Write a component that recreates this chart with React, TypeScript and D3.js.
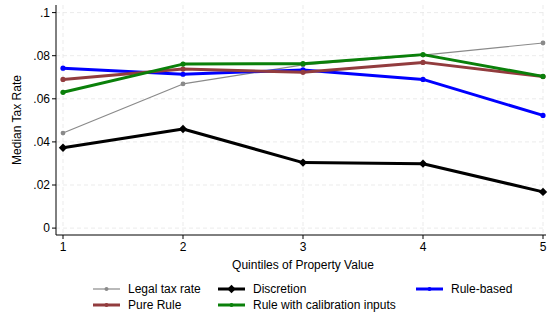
import * as d3 from "d3";
import React from "react";

const quintiles = [1, 2, 3, 4, 5];
const legalTaxRate = [0.0441, 0.0669, 0.0757, 0.0803, 0.0859];
const discretion = [0.0373, 0.046, 0.0304, 0.0299, 0.0168];
const pureRule = [0.069, 0.0738, 0.0723, 0.0769, 0.0703];
const ruleBased = [0.0742, 0.0714, 0.0734, 0.069, 0.0523];
const ruleCalibration = [0.063, 0.0761, 0.0763, 0.0805, 0.0704];
const yTicks = [0, 0.02, 0.04, 0.06, 0.08, 0.1];

const series = [
  { name: "Legal tax rate", color: "#8a8a8a", width: 1.2, marker: "circle", values: legalTaxRate },
  { name: "Discretion", color: "#000000", width: 3, marker: "diamond", values: discretion },
  { name: "Pure Rule", color: "#923c3e", width: 3, marker: "circle", values: pureRule },
  { name: "Rule-based", color: "#0000ff", width: 3, marker: "circle", values: ruleBased },
  { name: "Rule with calibration inputs", color: "#0a800a", width: 3, marker: "circle", values: ruleCalibration },
];

// draw order so that lines overlap like the original
const drawOrder = ["Legal tax rate", "Discretion", "Rule-based", "Pure Rule", "Rule with calibration inputs"];

const legendPos: Record<string, { x: number; y: number }> = {
  "Legal tax rate": { x: 93, y: 289 },
  "Discretion": { x: 218, y: 289 },
  "Rule-based": { x: 416, y: 289 },
  "Pure Rule": { x: 93, y: 305 },
  "Rule with calibration inputs": { x: 218, y: 305 },
};

const W = 548;
const H = 316;
const font = "'Liberation Sans', Arial, Helvetica, sans-serif";

export default function App() {
  const x = d3.scaleLinear().domain([1, 5]).range([63, 543]);
  const y = d3.scaleLinear().domain([0, 0.1]).range([228.1, 12.6]);
  const line = d3
    .line<number>()
    .x((_, i) => x(quintiles[i]))
    .y((d) => y(d));

  const marker = (kind: string, cx: number, cy: number, color: string, big: boolean) => {
    if (kind === "diamond") {
      const r = 4.2;
      return (
        <path
          d={`M${cx},${cy - r}L${cx + r},${cy}L${cx},${cy + r}L${cx - r},${cy}Z`}
          fill={color}
        />
      );
    }
    return <circle cx={cx} cy={cy} r={big ? 2.6 : 2.4} fill={color} />;
  };

  const plotLeft = 56;
  const plotBottom = 235;

  return (
    <svg
      width={W}
      height={H}
      style={{ position: "absolute", left: 0, top: 0, background: "#fff" }}
      fontFamily={font}
    >
      <rect width={W} height={H} fill="#fff" />
      {/* grid */}
      {yTicks.map((t) => (
        <line
          key={"gy" + t}
          x1={plotLeft}
          x2={546}
          y1={y(t)}
          y2={y(t)}
          stroke="#e6e6e6"
          strokeWidth={0.8}
          strokeDasharray="4,3"
        />
      ))}
      {quintiles.map((q) => (
        <line
          key={"gx" + q}
          x1={x(q)}
          x2={x(q)}
          y1={5}
          y2={plotBottom}
          stroke="#e6e6e6"
          strokeWidth={0.8}
          strokeDasharray="4,3"
        />
      ))}
      {/* axes */}
      <line x1={plotLeft} x2={plotLeft} y1={5} y2={plotBottom} stroke="#000" strokeWidth={1} />
      <line x1={plotLeft} x2={546} y1={plotBottom} y2={plotBottom} stroke="#000" strokeWidth={1} />
      {yTicks.map((t) => (
        <g key={"ty" + t}>
          <line x1={plotLeft - 4} x2={plotLeft} y1={y(t)} y2={y(t)} stroke="#000" />
          <text x={plotLeft - 6} y={y(t)} dy="0.35em" textAnchor="end" fontSize={12}>
            {t === 0 ? "0" : d3.format(".2~f")(t).replace(/^0/, "")}
          </text>
        </g>
      ))}
      {quintiles.map((q) => (
        <g key={"tx" + q}>
          <line x1={x(q)} x2={x(q)} y1={plotBottom} y2={plotBottom + 4} stroke="#000" />
          <text x={x(q)} y={plotBottom + 16} textAnchor="middle" fontSize={12}>
            {q}
          </text>
        </g>
      ))}
      <text x={303} y={269} textAnchor="middle" fontSize={12}>
        Quintiles of Property Value
      </text>
      <text
        transform={`translate(21,${(plotBottom + 5) / 2}) rotate(-90)`}
        textAnchor="middle"
        fontSize={12}
      >
        Median Tax Rate
      </text>
      {/* series */}
      {drawOrder.map((name) => {
        const s = series.find((d) => d.name === name)!;
        return (
          <g key={s.name}>
            <path d={line(s.values) || ""} fill="none" stroke={s.color} strokeWidth={s.width} strokeLinejoin="round" />
            {s.values.map((v, i) => (
              <g key={i}>{marker(s.marker, x(quintiles[i]), y(v), s.color, s.width > 2)}</g>
            ))}
          </g>
        );
      })}
      {/* legend */}
      {series.map((s) => {
        const p = legendPos[s.name];
        return (
          <g key={"lg" + s.name}>
            <line x1={p.x} x2={p.x + 27} y1={p.y} y2={p.y} stroke={s.color} strokeWidth={s.width} />
            {s.marker === "diamond" ? (
              marker("diamond", p.x + 13.5, p.y, s.color, true)
            ) : (
              <circle cx={p.x + 13.5} cy={p.y} r={2} fill={s.color} />
            )}
            <text x={p.x + 35} y={p.y} dy="0.35em" fontSize={12}>
              {s.name}
            </text>
          </g>
        );
      })}
    </svg>
  );
}
